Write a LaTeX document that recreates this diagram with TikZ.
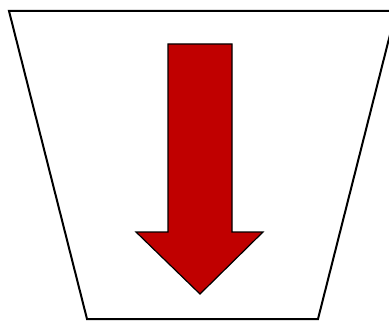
\documentclass[tikz,border=0pt]{standalone}
\begin{document}
\begin{tikzpicture}[x=1pt,y=-1pt,
  frame/.style={draw=black,line width=2pt,fill=white},
  bigarrow/.style={draw=black,line width=1.2pt,fill=arrowred,line join=miter}]
\definecolor{arrowred}{HTML}{C00000}
\useasboundingbox (0,0) rectangle (389,321);
\clip (0,0) rectangle (389,321);
\draw[frame] (9,11) -- (396,11) -- (318,319) -- (87,319) -- cycle;
\draw[bigarrow] (168,44) -- (232,44) -- (232,232) -- (263,232) -- (200,294)
  -- (136,232) -- (168,232) -- cycle;
\end{tikzpicture}
\end{document}
